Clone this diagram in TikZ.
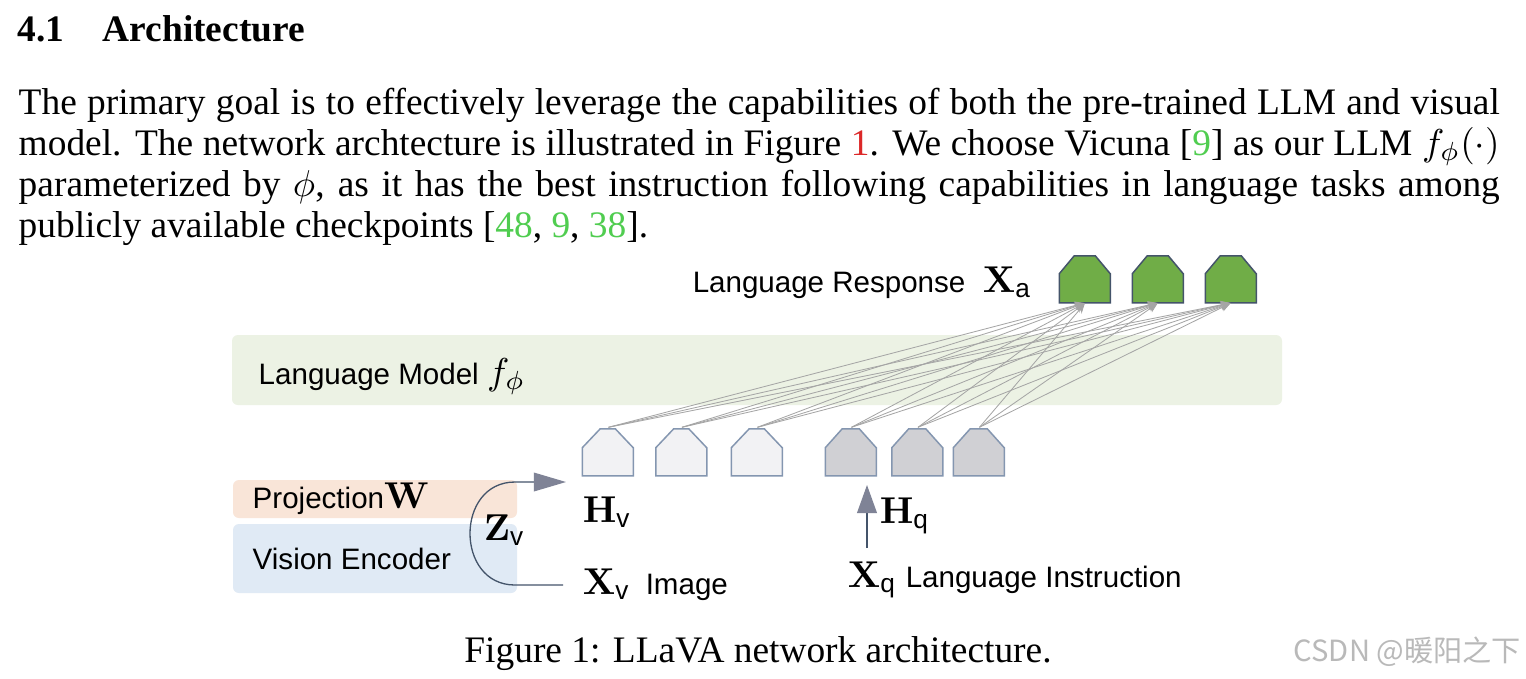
\documentclass[tikz,border=0pt]{standalone}
\usepackage[no-math]{fontspec}
\setmainfont{Liberation Serif}
\setsansfont{Liberation Sans}
\newfontfamily\figfont{Liberation Sans}
\newfontfamily\wmfont{Noto Sans CJK SC}
\usepackage{amsmath}
\usetikzlibrary{arrows.meta,calc}
\definecolor{citegreen}{RGB}{80,205,80}
\definecolor{linkred}{RGB}{220,40,40}
\definecolor{lmfill}{RGB}{236,242,228}
\definecolor{projfill}{RGB}{249,229,216}
\definecolor{visfill}{RGB}{224,234,245}
\definecolor{tokgreen}{RGB}{112,173,71}
\definecolor{tokdark}{RGB}{68,84,106}
\definecolor{toklight}{RGB}{242,242,244}
\definecolor{tokgray}{RGB}{208,208,212}
\definecolor{tokedge}{RGB}{132,150,176}
\definecolor{curvecol}{RGB}{68,84,106}
\definecolor{headgray}{RGB}{127,131,150}
\definecolor{attngray}{RGB}{165,165,165}
\definecolor{wmgray}{RGB}{185,185,185}
\def\u{0.26738pt}
\newcommand\ssub[1]{\text{\sffamily #1}}
\newcommand\figtxt{\figfont\fontsize{7.9}{9.5}\selectfont}
\newcommand\figmath{\fontsize{10}{12}\selectfont}
\tikzset{
  txt/.style={anchor=base west, inner sep=0, font=\fontsize{10}{11}\selectfont},
  ftxt/.style={anchor=base west, inner sep=0, font=\figtxt},
  fmath/.style={anchor=base west, inner sep=0, font=\figmath},
  band/.style={draw=none, rounded corners=1.6pt, inner sep=0},
  tokbox/.style={draw=none, inner sep=0, minimum width={51*\u}, minimum height={47*\u}},
  attn/.style={draw=attngray, line width=0.22pt, -{Stealth[length=2.6pt,width=2.2pt]}, shorten >=0.3pt},
  curv/.style={draw=curvecol, line width=0.35pt},
}
% name, x, y, fill, edge, chamfer x, chamfer y
\newcommand\tok[7]{%
  \node[tokbox] (#1) at (#2,#3) {};
  \draw[fill=#4, draw=#5, line width=0.4pt, line join=miter]
    (#1.south west) -- ++(51,0) -- ++(0,{-(47-#7)}) -- ++(-#6,-#7)
    -- ++({-(51-2*#6)},0) -- ++(-#6,#7) -- cycle;
}
\begin{document}
\begin{tikzpicture}[x=\u, y=-\u]
\useasboundingbox (0,0) rectangle (1526,678);
\fill[white] (0,0) rectangle (1526,678);

% ---------- heading and paragraph ----------
\node[txt] (secnum) at (17,41) {\bfseries 4.1};
\node[txt] (sectitle) at (102,41) {\bfseries Architecture};
\node[txt] (l1) at (18,114) {\makebox[396pt][s]{The primary goal is to effectively leverage the capabilities of both the pre-trained LLM and visual}};
\node[txt] (l2) at (18,155) {\makebox[396pt][s]{model. The network archtecture is illustrated in Figure \textcolor{linkred}{1}. We choose Vicuna [\textcolor{citegreen}{9}] as our LLM $f_{\phi}(\cdot)$}};
\node[txt] (l3) at (18,196) {\makebox[396pt][s]{parameterized by $\phi$, as it has the best instruction following capabilities in language tasks among}};
\node[txt] (l4) at (18,237) {publicly available checkpoints [\textcolor{citegreen}{48}, \textcolor{citegreen}{9}, \textcolor{citegreen}{38}].};

% ---------- figure ----------
\node[band, fill=lmfill, minimum width={1050*\u}, minimum height={70*\u}] (lm) at (757,370) {};
\node[band, fill=projfill, minimum width={284*\u}, minimum height={38*\u}] (proj) at (375,499) {};
\node[band, fill=visfill, minimum width={284*\u}, minimum height={69*\u}] (vis) at (375,558.5) {};

\node[ftxt] (lmlab) at (258,384) {Language Model {\figmath$f_{\phi}$}};
\node[ftxt] (projlab) at (252,508) {Projection{\figmath$\mathbf{W}$}};
\node[ftxt] (vislab) at (252,569) {Vision Encoder};
\node[ftxt] (resplab) at (692,292) {Language Response};
\node[fmath] (xa) at (982,292) {$\mathbf{X}_{\ssub{a}}$};

% output tokens
\tok{a1}{1085.5}{278.5}{tokgreen}{tokdark}{15}{18}
\tok{a2}{1158.5}{278.5}{tokgreen}{tokdark}{15}{18}
\tok{a3}{1231.5}{278.5}{tokgreen}{tokdark}{15}{18}
% visual tokens
\tok{v1}{608.5}{451.5}{toklight}{tokedge}{18}{19}
\tok{v2}{682}{451.5}{toklight}{tokedge}{18}{19}
\tok{v3}{757.5}{451.5}{toklight}{tokedge}{18}{19}
% language tokens
\tok{q1}{851.5}{451.5}{tokgray}{tokedge}{17}{19}
\tok{q2}{918}{451.5}{tokgray}{tokedge}{17}{19}
\tok{q3}{979.5}{451.5}{tokgray}{tokedge}{17}{19}

\foreach \s in {v1,v2,v3,q1,q2,q3}
  \foreach \t in {a1,a2,a3}
    \draw[attn] (\s.north) -- (\t.south);

% labels
\node[fmath] (hv) at (582,522) {$\mathbf{H}_{\ssub{v}}$};
\node[fmath] (zv) at (483,540) {$\mathbf{Z}_{\ssub{v}}$};
\node[fmath] (xv) at (582,594) {$\mathbf{X}_{\ssub{v}}$};
\node[ftxt] (imglab) at (645,594) {Image};
\node[fmath] (hq) at (879,523) {$\mathbf{H}_{\ssub{q}}$};
\node[fmath] (xq) at (847,587) {$\mathbf{X}_{\ssub{q}}$};
\node[ftxt] (inslab) at (905,587) {Language Instruction};

% arrows
\coordinate (xvs) at (563,585);
\coordinate (hvt) at (566,482);
\draw[curv, -{Triangle[length=8.6pt,width=5pt,fill=headgray,color=headgray]}]
  (xvs) -- (515,585) .. controls (455,585) and (455,482) .. (515,482) -- (hvt);
\coordinate (hqs) at (867,548);
\coordinate (hqt) at (867,485);
\draw[curv, -{Triangle[length=7.5pt,width=5.3pt,fill=headgray,color=headgray]}] (hqs) -- (hqt);

% ---------- caption and watermark ----------
\node[anchor=base, inner sep=0, font=\fontsize{10}{11}\selectfont] (cap) at (758,662) {Figure 1: LLaVA network architecture.};
\node[anchor=base west, inner sep=0, font=\wmfont\fontsize{7.8}{9}\selectfont, text=wmgray] (wm) at (1293,661) {CSDN @暖阳之下};
\end{tikzpicture}
\end{document}
